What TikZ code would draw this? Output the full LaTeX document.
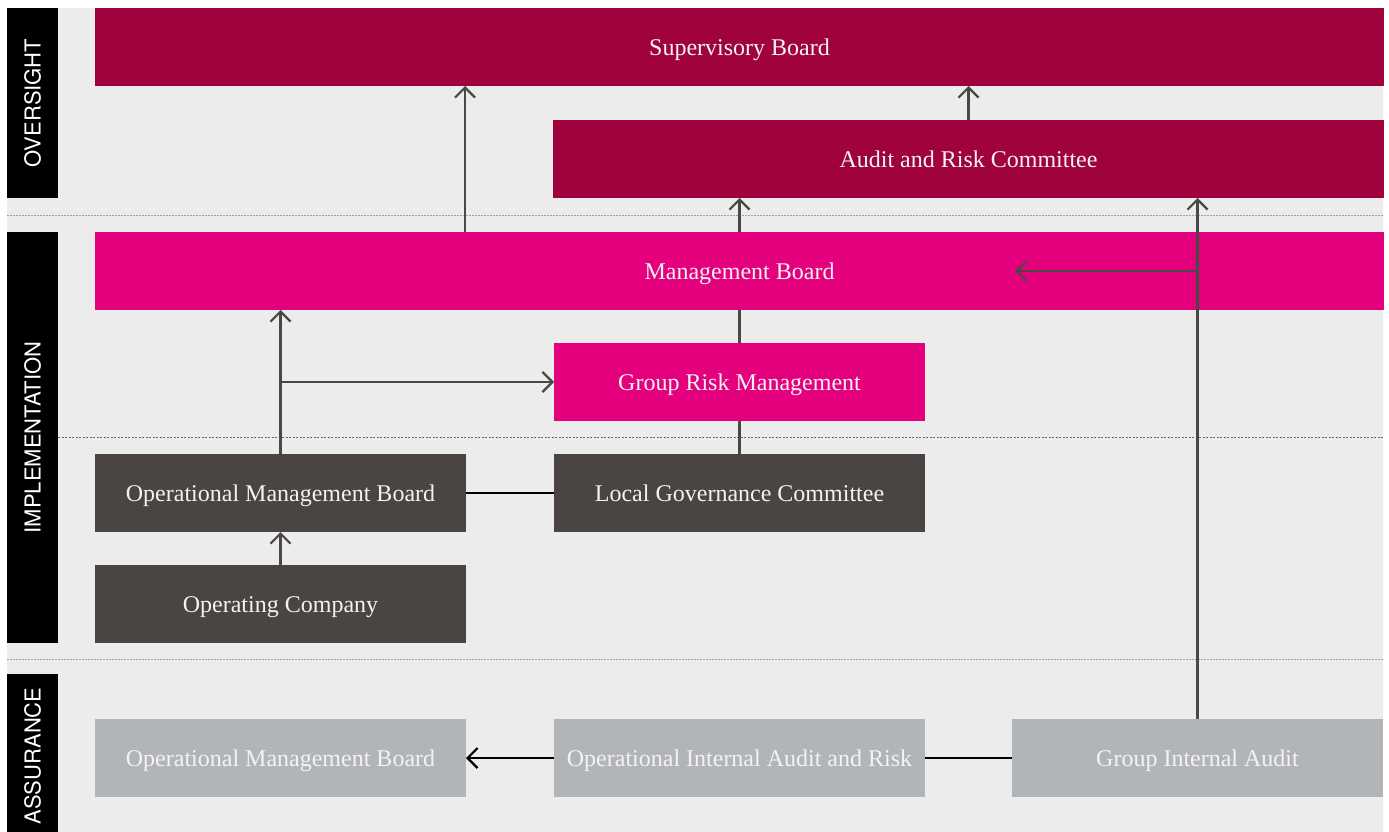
\documentclass[tikz,border=0pt]{standalone}
\usepackage{fontspec}
\setmainfont{Liberation Serif}
\newfontfamily\labelfont{TeX Gyre Heros}
\usetikzlibrary{arrows.meta,calc}
\definecolor{bgc}{HTML}{ECECEC}
\definecolor{crim}{HTML}{A0023E}
\definecolor{mag}{HTML}{E5007E}
\definecolor{darkb}{HTML}{4A4542}
\definecolor{lightb}{HTML}{B2B5B7}
\definecolor{arrc}{HTML}{4A4747}
\definecolor{txtw}{HTML}{F4F2F3}
\tikzset{
  box/.style={rectangle, inner sep=0pt, outer sep=0pt, minimum height=78pt, text=txtw,
    text height=17.5pt, text depth=0pt,
    font=\fontsize{24}{26}\selectfont},
  crimbox/.style={box, fill=crim},
  magbox/.style={box, fill=mag},
  darkbox/.style={box, fill=darkb},
  lightbox/.style={box, fill=lightb},
  sidebar/.style={rectangle, fill=black, inner sep=0pt, outer sep=0pt, minimum width=51pt},
  sidetext/.style={text=white, rotate=90, font=\labelfont\fontsize{22}{24}\selectfont},
  arr/.style={draw=arrc, line width=2.2pt, -{Straight Barb[length=10pt,width=20pt,line width=2.2pt]}},
  conn/.style={draw=arrc, line width=2.2pt},
  barr/.style={draw=black, line width=2.2pt, -{Straight Barb[length=10pt,width=20pt,line width=2.2pt]}},
  bconn/.style={draw=black, line width=2.2pt},
  sepline/.style={draw=gray!75, line width=1.8pt, dash pattern=on 2pt off 1pt},
  septhin/.style={draw=black!60, line width=0.9pt, dash pattern=on 2pt off 1.5pt},
}
\begin{document}
\begin{tikzpicture}[x=1pt,y=-1pt]
\useasboundingbox (0,0) rectangle (1389,832);
\fill[bgc] (7,8) rectangle (1383,832);
% separators
\draw[sepline] (7,215.5) -- (1383,215.5);
\draw[septhin] (58,437.5) -- (1383,437.5);
\draw[sepline] (7,659.5) -- (1383,659.5);
% side bars
\node[sidebar, minimum height=190pt] (bar1) at (32.5,103) {};
\node[sidetext] (lab1) at (bar1.center) {OVERSIGHT};
\node[sidebar, minimum height=411pt] (bar2) at (32.5,437.5) {};
\node[sidetext] (lab2) at (bar2.center) {IMPLEMENTATION};
\node[sidebar, minimum height=158pt] (bar3) at (32.5,753) {};
\node[sidetext] (lab3) at ($(bar3.center)+(0,3)$) {ASSURANCE};
% boxes
\node[crimbox, minimum width=1289pt] (sup) at (739.5,47) {Supervisory Board};
\node[crimbox, minimum width=831pt] (arc) at (968.5,159) {Audit and Risk Committee};
\node[magbox, minimum width=1289pt] (mb) at (739.5,271) {Management Board};
\node[magbox, minimum width=371pt] (grm) at (739.5,382) {Group Risk Management};
\node[darkbox, minimum width=371pt] (omb) at (280.5,493) {Operational Management Board};
\node[darkbox, minimum width=371pt] (lgc) at (739.5,493) {Local Governance Committee};
\node[darkbox, minimum width=371pt] (oc) at (280.5,604) {Operating Company};
\node[lightbox, minimum width=371pt] (aomb) at (280.5,758) {Operational Management Board};
\node[lightbox, minimum width=371pt] (oiar) at (739.5,758) {Operational Internal Audit and Risk};
\node[lightbox, minimum width=371pt] (gia) at (1197.5,758) {Group Internal Audit};
\coordinate (mbin) at (1015,271);
% connectors
\draw[arr] (mb.north -| omb.east) ++(-1,0) -- ($(sup.south -| omb.east)+(-1,0)$);
\draw[arr] (arc.north) -- (sup.south -| arc.north);
\draw[arr] (mb.north) -- (arc.south -| mb.north);
\draw[arr] (gia.north) -- (arc.south -| gia.north);
\draw[arr] (mb.center -| gia.north) -- (mbin);
\draw[conn] (mb.south) -- (grm.north);
\draw[conn] (grm.south) -- (lgc.north);
\draw[arr] (omb.north) -- (mb.south -| omb.north);
\draw[arr] (omb.north |- grm.west) -- (grm.west);
\draw[bconn] (omb.east) -- (lgc.west);
\draw[arr] (oc.north) -- (omb.south);
\draw[barr] (oiar.west) -- (aomb.east);
\draw[bconn] (oiar.east) -- (gia.west);
\end{tikzpicture}
\end{document}
